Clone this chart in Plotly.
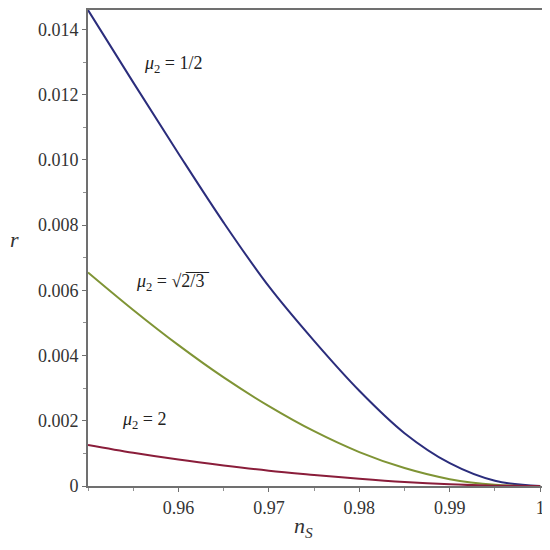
import plotly.graph_objects as go

# Data
ns = [0.95, 0.955, 0.96, 0.965, 0.97, 0.975, 0.98, 0.985, 0.99, 0.995, 1.0]
r_half = [0.0146, 0.01238, 0.01020, 0.00808, 0.00612, 0.00445, 0.00292, 0.00162, 0.00070, 0.00016, 0.0]
r_sqrt23 = [0.00655, 0.00540, 0.00432, 0.00333, 0.00245, 0.00168, 0.00104, 0.00055, 0.00021, 0.00004, 0.0]
r_two = [0.00126, 0.00102, 0.00081, 0.00063, 0.00047, 0.00034, 0.00022, 0.00012, 0.00005, 0.00001, 0.0]

series_names = ["μ2 = 1/2", "μ2 = √(2/3)", "μ2 = 2"]
series_colors = ["#2b2d7c", "#7f9435", "#8a1d3a"]

x_tickvals = [0.96, 0.97, 0.98, 0.99, 1.0]
x_ticktext = ["0.96", "0.97", "0.98", "0.99", "1"]
y_tickvals = [0, 0.002, 0.004, 0.006, 0.008, 0.010, 0.012, 0.014]
y_ticktext = ["0", "0.002", "0.004", "0.006", "0.008", "0.010", "0.012", "0.014"]

labels = [
    (0.9560, 0.01292, "<i>μ</i><sub>2</sub> = 1/2"),
    (0.9551, 0.00625, "<i>μ</i><sub>2</sub> = √2̅/̅3̅"),
    (0.9535, 0.00200, "<i>μ</i><sub>2</sub> = 2"),
]

font_family = "Liberation Serif"

fig = go.Figure()
for ys, name, col in zip([r_half, r_sqrt23, r_two], series_names, series_colors):
    fig.add_trace(go.Scatter(
        x=ns, y=ys, mode="lines", name=name,
        line=dict(color=col, width=2, shape="spline", smoothing=1.0),
        showlegend=False,
    ))

for lx, ly, txt in labels:
    fig.add_annotation(x=lx, y=ly, text=txt, showarrow=False,
                       xanchor="left", yanchor="middle",
                       font=dict(family=font_family, size=18, color="#222222"))

# axis titles
fig.add_annotation(x=-0.176, y=0.517, xref="paper", yref="paper", text="<i>r</i>",
                   showarrow=False, xanchor="left", yanchor="middle",
                   font=dict(family=font_family, size=22, color="#333333"))
fig.add_annotation(x=0.475, y=-0.086, xref="paper", yref="paper", text="<i>n</i><sub><i>S</i></sub>",
                   showarrow=False, xanchor="center", yanchor="middle",
                   font=dict(family=font_family, size=22, color="#333333"))

axis_common = dict(
    showline=True, linecolor="#707070", linewidth=2, mirror=True,
    showgrid=False, zeroline=False, automargin=False,
    ticks="outside", ticklen=4, tickcolor="#707070", tickwidth=1,
    tickfont=dict(family=font_family, size=18, color="#333333"),
    ticklabeloverflow="allow",
)

fig.update_xaxes(
    range=[0.95, 1.0002], tickvals=x_tickvals, ticktext=x_ticktext,
    minor=dict(dtick=0.005, tick0=0.95, ticks="outside", ticklen=3, tickcolor="#909090"),
    **axis_common,
)
fig.update_yaxes(
    range=[0, 0.0146], tickvals=y_tickvals, ticktext=y_ticktext,
    minor=dict(dtick=0.001, tick0=0, ticks="outside", ticklen=3, tickcolor="#909090"),
    **axis_common,
)

# page body has an 8px margin, so the 542 px figure sits at (8, 8) in the window
fig.update_layout(
    width=542, height=542,
    margin=dict(l=80, r=8, t=2, b=64),
    paper_bgcolor="white", plot_bgcolor="white",
)

fig.write_html("out.html")
